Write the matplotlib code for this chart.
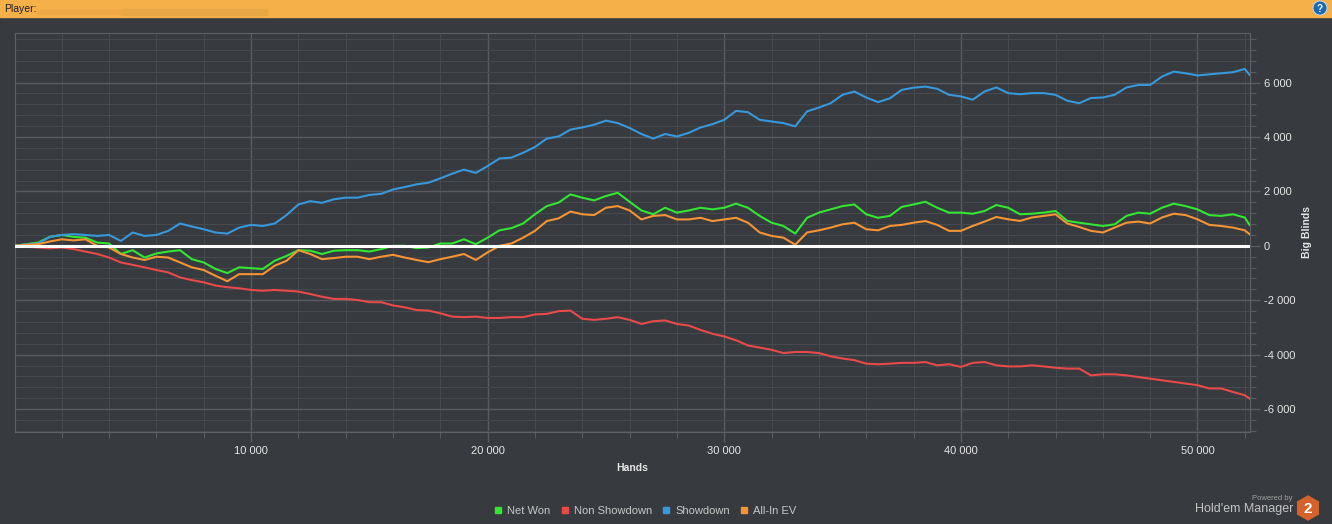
import matplotlib
matplotlib.use('Agg')
import matplotlib.pyplot as plt
from matplotlib.patches import Rectangle, Circle, RegularPolygon
from matplotlib.lines import Line2D
from matplotlib.ticker import FixedLocator, MultipleLocator, FuncFormatter

plt.rcParams['font.family'] = ['Liberation Sans', 'DejaVu Sans']

# hands played, one reading every 500 hands
hands = list(range(0, 52001, 500)) + [52200]

net_won = [0, 60, 120, 330, 400, 330, 300, 120, 85, -300, -160, -430, -280, -210, -160, -490,
           -610, -850, -1000, -790, -820, -850, -550, -370, -160, -180, -300,
           -180, -160, -160, -210, -120, 0, 0, -85, -60, 85, 85, 240, 60, 300, 570, 650,
           820, 1160, 1460, 1590, 1890, 1770, 1670, 1830, 1950, 1620, 1300,
           1160, 1400, 1220, 1300, 1400, 1340, 1400, 1550, 1400, 1100, 850, 730, 450,
           1030, 1220, 1340, 1460, 1520, 1160, 1030, 1100, 1430, 1520, 1620, 1400, 1220,
           1220, 1180, 1280, 1500, 1400, 1160, 1180, 1220, 1280, 915, 850, 790, 730,
           790, 1100, 1220, 1180, 1400, 1550, 1460, 1340, 1130, 1100, 1160, 1040, 770]

non_showdown = [0, -35, -60, -90, -60, -120, -210, -300, -430, -610, -700, -790, -890, -975,
                -1160, -1260, -1340, -1460, -1520, -1560, -1620, -1650, -1620, -1650, -1680,
                -1770, -1870,
                -1950, -1950, -1990, -2070, -2070, -2190, -2260, -2360, -2380, -2480, -2600,
                -2620, -2600, -2650, -2650, -2620, -2620, -2520, -2500, -2400, -2380, -2680,
                -2720, -2680, -2620, -2720, -2870,
                -2770, -2740, -2870, -2930, -3090, -3230, -3330, -3470, -3660, -3740, -3820,
                -3940, -3900, -3900, -3940, -4060, -4140, -4200, -4330, -4350, -4330, -4300,
                -4300, -4270, -4390, -4350,
                -4450, -4300, -4270, -4390, -4430, -4430, -4390, -4430, -4480, -4510, -4510,
                -4760, -4720, -4720, -4760, -4820, -4880, -4940, -5000, -5060, -5120, -5240,
                -5240, -5370, -5490, -5610]

showdown = [0, 60, 85, 330, 400, 430, 400, 365, 400, 180, 490, 365, 400, 550, 820, 710, 610,
            490, 450, 670, 770, 730, 820, 1130, 1520, 1640, 1580,
            1710, 1770, 1770, 1870, 1910, 2070, 2160, 2260, 2320, 2480, 2650, 2800, 2680,
            2930, 3210, 3240, 3420, 3630, 3940, 4020, 4270, 4350, 4450, 4600, 4510, 4330, 4110,
            3940, 4110, 4020, 4150, 4350, 4470, 4630, 4960, 4910, 4630, 4570, 4510, 4390,
            4940, 5080, 5240, 5550, 5670, 5450, 5280, 5420, 5730, 5810, 5850, 5770, 5550,
            5490, 5370, 5670, 5820, 5610, 5570, 5610, 5610, 5550, 5330, 5240, 5430, 5450,
            5550, 5820, 5910, 5910, 6220, 6400, 6340, 6260, 6300, 6340, 6380, 6500, 6280]

all_in_ev = [0, 40, 60, 160, 240, 200, 240, 0, -60, -300, -430, -520, -400, -430, -610, -790,
             -890, -1100, -1300, -1040, -1040, -1040, -730, -550, -160, -300, -490,
             -450, -400, -400, -490, -400, -330, -430, -520, -600, -490, -400, -300, -520,
             -240, 0, 85, 300, 550, 910, 1010, 1260, 1160, 1130, 1400, 1460, 1300, 970,
             1100, 1130, 970, 970, 1030, 910, 970, 1030, 850, 490, 365, 300, 40,
             490, 570, 670, 790, 850, 610, 570, 730, 770, 850, 910, 770, 550,
             550, 730, 890, 1060, 975, 915, 1040, 1100, 1160, 820, 695, 550, 490,
             670, 850, 890, 820, 1040, 1180, 1130, 975, 770, 730, 670, 570, 430]

series_names = ['Net Won', 'Non Showdown', 'Showdown', 'All-In EV']
series_colors = ['#32e632', '#e84a4a', '#3898dc', '#f59434']

BG = '#373a3e'
GRID_MAJOR = '#585b5f'
GRID_MINOR = '#46494d'
TEXT = '#e6e6e6'

fig = plt.figure(figsize=(13.32, 5.24), dpi=100)
fig.patch.set_facecolor(BG)

# pixel-space layer for header bar, titles and logo
deco = fig.add_axes([0, 0, 1, 1], zorder=0)
deco.set_xlim(0, 1332)
deco.set_ylim(524, 0)
deco.axis('off')

deco.add_patch(Rectangle((0, 0), 1332, 17, color='#f5b04a'))
deco.add_patch(Rectangle((38, 10), 85, 4, color='#efaa47'))
deco.add_patch(Rectangle((123, 9), 144, 6, color='#eaa745'))
deco.text(4, 8.5, 'Player:', color='#1e1e1e', fontsize=7.5, ha='left', va='center')
deco.add_patch(Circle((1320, 8), 7, color='#1c68b4', ec='#cfe3f5', lw=0.6))
deco.text(1320, 8.5, '?', color='white', fontsize=7, weight='bold', ha='center', va='center')

deco.text(632.5, 468, 'Hands', color=TEXT, fontsize=7.5, weight='bold', ha='center', va='center')
deco.text(1307, 232.5, 'Big Blinds', color=TEXT, fontsize=7.5, weight='bold',
          ha='center', va='center', rotation=90)

deco.text(1293, 498, 'Powered by', color='#a0a0a0', fontsize=5.5, ha='right', va='center')
deco.text(1293, 509, "Hold'em Manager", color='#c4c4c4', fontsize=9, ha='right', va='center')
deco.add_patch(RegularPolygon((1308, 508), numVertices=6, radius=12, color='#d4622a'))
deco.text(1308, 509, '2', color='white', fontsize=11, weight='bold', ha='center', va='center')

ax = fig.add_axes([15 / 1332, 92 / 524, 1235 / 1332, 399 / 524], zorder=1)
ax.set_facecolor(BG)

for vals, name, col in zip([net_won, non_showdown, showdown, all_in_ev], series_names, series_colors):
    ax.plot(hands, vals, color=col, lw=1.5, label=name, zorder=3)
ax.axhline(0, color='white', lw=2.2, zorder=4)

ax.set_xlim(25, 52220)
ax.set_ylim(-6840, 7820)

ax.xaxis.set_major_locator(FixedLocator([10000, 20000, 30000, 40000, 50000]))
ax.xaxis.set_minor_locator(MultipleLocator(2000))
ax.yaxis.set_major_locator(MultipleLocator(2000))
ax.yaxis.set_minor_locator(MultipleLocator(400))
fmt = FuncFormatter(lambda v, p: f'{v:,.0f}'.replace(',', ' '))
ax.xaxis.set_major_formatter(fmt)
ax.yaxis.set_major_formatter(fmt)
ax.yaxis.tick_right()

ax.tick_params(which='both', color=GRID_MAJOR, labelcolor=TEXT, labelsize=8)
ax.tick_params(which='major', length=7, width=1, pad=3)
ax.tick_params(which='minor', length=4, width=0.8)
ax.grid(which='major', color=GRID_MAJOR, lw=1)
ax.grid(which='minor', color=GRID_MINOR, lw=0.8)
ax.set_axisbelow(True)
for sp in ax.spines.values():
    sp.set_color('#5e6165')

handles = [Line2D([], [], marker='s', ls='none', ms=4.5, color=c) for c in series_colors]
fig.legend(handles, series_names, loc='center', bbox_to_anchor=(645 / 1332, 1 - 511 / 524),
           ncol=4, frameon=False, fontsize=8, labelcolor='#c8c8c8', handlelength=0.8,
           handletextpad=0.4, columnspacing=0.9)

fig.savefig('out.png', dpi=100, facecolor=BG)
